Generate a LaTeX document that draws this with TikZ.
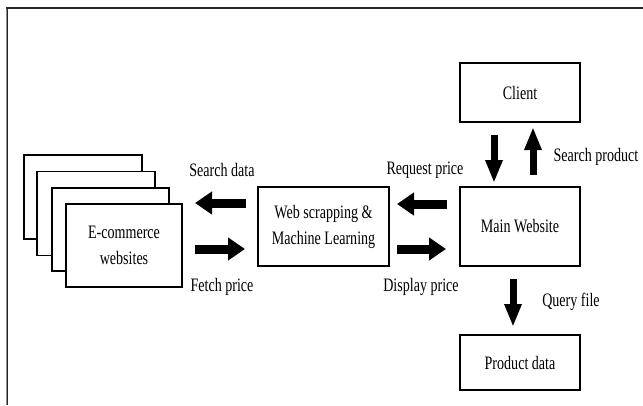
\documentclass[tikz,border=0pt]{standalone}
\usepackage{fontspec}
\setmainfont{Liberation Serif}[FakeStretch=0.74]
\usetikzlibrary{arrows.meta}
\begin{document}
\begin{tikzpicture}[x=1pt,y=-1pt,
  box/.style={draw=black,line width=1.4pt,fill=white,rectangle,inner sep=0pt,
    align=center,font=\fontsize{19}{26}\selectfont},
  lbl/.style={inner sep=0pt,font=\fontsize{19}{22}\selectfont},
  harrow/.style={line width=9pt,-{Triangle[width=22pt,length=17pt]}},
  varrow/.style={line width=7pt,-{Triangle[width=16pt,length=23pt]}}]
\useasboundingbox (0,0) rectangle (643,405);
% frame
\draw[line width=2pt,black!85] (6.7,405) -- (6.7,7.7) -- (643,7.7);
\draw[line width=1pt,black!45] (6.7,405) -- (6.7,8.5);
% stacked e-commerce boxes
\node[box,minimum width=118pt,minimum height=84pt] (ec1) at (83,197) {};
\node[box,minimum width=118pt,minimum height=84pt] (ec2) at (96,213.5) {};
\node[box,minimum width=117pt,minimum height=83pt] (ec3) at (110.5,229.5) {};
\node[box,minimum width=116pt,minimum height=83pt] (ec) at (124,245.5) {E-commerce\\websites};
% main boxes
\node[box,minimum width=131pt,minimum height=79pt] (web) at (323.5,226.5) {Web scrapping \&\\Machine Learning};
\node[box,minimum width=120pt,minimum height=59pt] (client) at (520,92.5) {Client};
\node[box,minimum width=120pt,minimum height=79pt] (main) at (520,226.5) {Main Website};
\node[box,minimum width=120pt,minimum height=55pt] (prod) at (520,362.5) {Product data};
% arrow endpoints
\coordinate (sdA) at (246,203); \coordinate (sdB) at (195,203);
\coordinate (fpA) at (195,249); \coordinate (fpB) at (245,249);
\coordinate (rpA) at (447,204); \coordinate (rpB) at (397,204);
\coordinate (dpA) at (397,249); \coordinate (dpB) at (446,249);
\coordinate (cmA) at (494,135); \coordinate (cmB) at (494,183);
\coordinate (spA) at (533,175); \coordinate (spB) at (533,127);
\coordinate (qfA) at (513,279); \coordinate (qfB) at (513,327);
\draw[harrow] (sdA) -- (sdB);
\draw[harrow] (fpA) -- (fpB);
\draw[harrow] (rpA) -- (rpB);
\draw[harrow] (dpA) -- (dpB);
\draw[varrow] (cmA) -- (cmB);
\draw[varrow] (spA) -- (spB);
\draw[varrow] (qfA) -- (qfB);
% labels
\node[lbl] (lsd) at (222,170) {Search data};
\node[lbl] (lfp) at (222,287) {Fetch price};
\node[lbl] (lrp) at (425,170) {Request price};
\node[lbl] (ldp) at (421,287) {Display price};
\node[lbl] (lsp) at (596,157) {Search product};
\node[lbl] (lqf) at (571,302) {Query file};
\end{tikzpicture}
\end{document}
